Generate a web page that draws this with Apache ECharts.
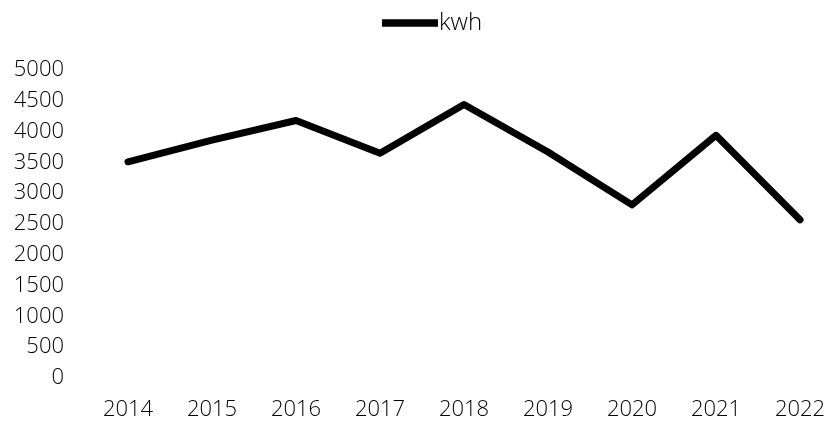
<!DOCTYPE html>
<html>
<head>
<meta charset="utf-8">
<script src="https://cdn.jsdelivr.net/npm/echarts@6/dist/echarts.min.js"></script>
<style>html,body{margin:0;padding:0;background:#fff}#c{width:829px;height:421px}</style>
</head>
<body>
<div id="c"></div>
<script>
const categories = ['2014','2015','2016','2017','2018','2019','2020','2021','2022'];
const seriesName = 'kwh';
const kwh = [3510, 3860, 4180, 3650, 4440, 3670, 2810, 3940, 2570];
const yMin = 0, yMax = 5000, yInterval = 500;

const chart = echarts.init(document.getElementById('c'), null, {renderer: 'canvas'});
const font = '"Open Sans", "Noto Sans", sans-serif';
chart.setOption({
  animation: false,
  backgroundColor: '#fff',
  legend: {
    top: 6,
    left: 377,
    itemWidth: 56,
    itemHeight: 14,
    itemGap: 10,
    textStyle: {fontFamily: font, fontWeight: 300, fontSize: 24, color: '#000', padding: [0,0,0,-4]},
    data: [{name: seriesName, icon: 'path://M0,0 L54,0 L54,7 L0,7 Z'}]
  },
  grid: {left: 128, right: 29, top: 70, bottom: 43, containLabel: false},
  xAxis: {
    type: 'category',
    data: categories,
    boundaryGap: false,
    axisLine: {show: false},
    axisTick: {show: false},
    splitLine: {show: false},
    axisLabel: {fontFamily: font, fontWeight: 300, fontSize: 22, color: '#000', margin: 21}
  },
  yAxis: {
    type: 'value',
    min: yMin, max: yMax, interval: yInterval,
    axisLine: {show: false},
    axisTick: {show: false},
    splitLine: {show: false},
    axisLabel: {fontFamily: font, fontWeight: 300, fontSize: 22, color: '#000', margin: 64,
      formatter: function (v) { return String(v); }}
  },
  series: [{
    name: seriesName,
    type: 'line',
    data: kwh,
    symbol: 'none',
    itemStyle: {color: '#000'},
    lineStyle: {color: '#000', width: 7, cap: 'round', join: 'round'}
  }]
});
</script>
</body>
</html>
